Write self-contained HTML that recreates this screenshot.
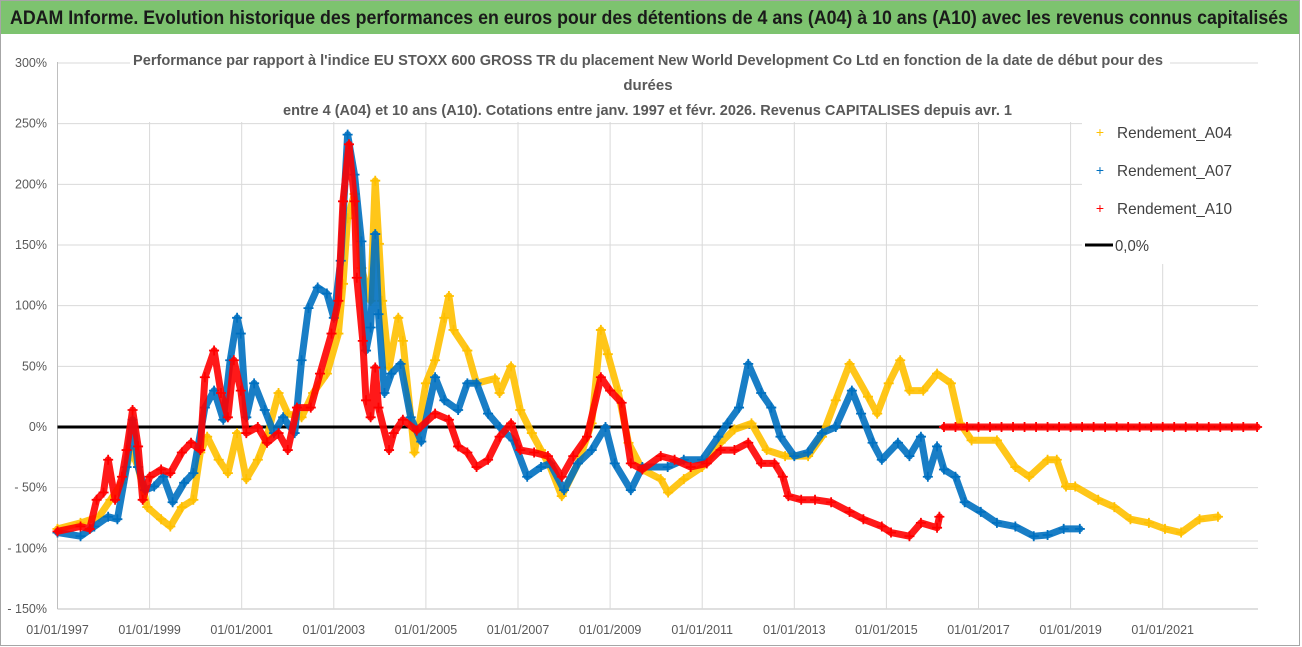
<!DOCTYPE html>
<html><head><meta charset="utf-8">
<style>
html,body{margin:0;padding:0;background:#fff;}
svg{display:block;}
text{font-family:"Liberation Sans Narrow","Liberation Sans",sans-serif;}
</style></head>
<body>
<svg id="chart" width="1302" height="647" viewBox="0 0 1302 647" xmlns="http://www.w3.org/2000/svg">
  <rect x="0.5" y="0.5" width="1299" height="645" fill="#fff" stroke="#a6a6a6"/>
  <rect x="1" y="1" width="1298" height="33" fill="#7dc36f"/>
  <text x="10" y="24" font-size="19" font-weight="bold" fill="#1a1a1a" textLength="1278" lengthAdjust="spacingAndGlyphs">ADAM Informe. Evolution historique des performances en euros pour des détentions de 4 ans (A04) à 10 ans (A10) avec les revenus connus capitalisés</text>
  <g id="grid"></g>
  <g id="axes"></g>
  <g id="series"></g>
  <rect x="130" y="45" width="1040" height="75" fill="#fff"/>
  <g fill="#595959" font-size="15" font-weight="bold">
    <text x="133" y="65" textLength="1030" lengthAdjust="spacingAndGlyphs">Performance par rapport à l'indice EU STOXX 600 GROSS TR  du placement New World Development Co Ltd en fonction de la date de début pour des</text>
    <text x="648" y="90" text-anchor="middle">durées</text>
    <text x="283" y="115" textLength="729" lengthAdjust="spacingAndGlyphs">entre 4 (A04) et 10 ans (A10). Cotations entre janv. 1997 et févr. 2026. Revenus CAPITALISES depuis avr. 1</text>
  </g>
  <g id="legend">
    <rect x="1082" y="114" width="178" height="150" fill="#fff"/>
    <g>
      <text x="1100" y="137" font-size="14" fill="#ffc000" text-anchor="middle">+</text>
      <text x="1117" y="138" font-size="16" fill="#404040" textLength="115" lengthAdjust="spacingAndGlyphs">Rendement_A04</text>
    </g>
    <g>
      <text x="1100" y="175" font-size="14" fill="#0070c0" text-anchor="middle">+</text>
      <text x="1117" y="176" font-size="16" fill="#404040" textLength="115" lengthAdjust="spacingAndGlyphs">Rendement_A07</text>
    </g>
    <g>
      <text x="1100" y="213" font-size="14" fill="#ff0000" text-anchor="middle">+</text>
      <text x="1117" y="214" font-size="16" fill="#404040" textLength="115" lengthAdjust="spacingAndGlyphs">Rendement_A10</text>
    </g>
    <g>
      <line x1="1085" y1="245" x2="1113" y2="245" stroke="#000" stroke-width="3"/>
      <text x="1115" y="251" font-size="16" fill="#404040" textLength="34" lengthAdjust="spacingAndGlyphs">0,0%</text>
    </g>
  </g>
</svg>
<script>
const yTicks = [300,250,200,150,100,50,0,-50,-100,-150];
const yTickLabels = ["300%","250%","200%","150%","100%","50%","0%","- 50%","- 100%","- 150%"];
const xTicks = [1997,1999,2001,2003,2005,2007,2009,2011,2013,2015,2017,2019,2021];
const xTickLabels = ["01/01/1997","01/01/1999","01/01/2001","01/01/2003","01/01/2005","01/01/2007","01/01/2009","01/01/2011","01/01/2013","01/01/2015","01/01/2017","01/01/2019","01/01/2021"];

const a04Dates = [1997.0,1997.5,1997.9,1998.15,1998.4,1998.6,1998.75,1998.95,1999.25,1999.45,1999.7,1999.95,2000.1,2000.25,2000.5,2000.7,2000.9,2001.1,2001.35,2001.55,2001.8,2002.0,2002.3,2002.55,2002.85,2003.1,2003.2,2003.3,2003.45,2003.6,2003.8,2003.9,2003.98,2004.05,2004.2,2004.4,2004.5,2004.75,2005.0,2005.2,2005.4,2005.5,2005.6,2005.9,2006.1,2006.5,2006.6,2006.85,2007.05,2007.3,2007.5,2007.7,2007.95,2008.3,2008.6,2008.8,2008.95,2009.17,2009.4,2009.7,2010.1,2010.26,2010.6,2011.0,2011.4,2011.7,2012.07,2012.4,2012.8,2013.3,2013.6,2013.9,2014.2,2014.6,2014.8,2015.05,2015.3,2015.5,2015.8,2016.1,2016.4,2016.6,2016.85,2017.4,2017.8,2018.1,2018.5,2018.7,2018.9,2019.1,2019.6,2019.95,2020.3,2020.7,2021.05,2021.4,2021.8,2022.2];
const a04Values = [-84,-79,-74,-60,-46,-19,-33,-66,-76,-82,-66,-60,-21,-8,-27,-38,-5,-43,-27,-8,28,11,8,28,44,77,118,172,192,131,104,203,151,104,49,90,71,-21,36,55,90,108,80,63,36,40,28,50,14,-5,-19,-33,-57,-30,3,80,60,30,-13,-35,-43,-54,-43,-33,-13,-2,3,-19,-24,-24,-8,22,52,25,11,36,55,30,30,44,36,3,-11,-11,-33,-41,-27,-27,-49,-49,-60,-66,-76,-79,-84,-87,-76,-74];

const a07Dates = [1997.0,1997.5,1997.8,1998.1,1998.3,1998.5,1998.63,1998.75,1998.9,1999.1,1999.3,1999.5,1999.75,1999.95,2000.2,2000.4,2000.6,2000.75,2000.9,2000.98,2001.1,2001.27,2001.5,2001.7,2001.9,2002.15,2002.3,2002.45,2002.65,2002.85,2003.0,2003.15,2003.3,2003.45,2003.6,2003.7,2003.8,2003.9,2003.97,2004.1,2004.25,2004.45,2004.67,2004.9,2005.2,2005.4,2005.7,2005.9,2006.1,2006.35,2006.6,2006.9,2007.2,2007.5,2007.7,2008.0,2008.3,2008.6,2008.9,2009.1,2009.45,2009.7,2010.25,2010.6,2011.0,2011.35,2011.55,2011.8,2012.0,2012.28,2012.5,2012.7,2013.0,2013.3,2013.6,2013.9,2014.25,2014.45,2014.7,2014.9,2015.25,2015.5,2015.75,2015.9,2016.1,2016.25,2016.5,2016.7,2017.05,2017.4,2017.8,2018.2,2018.5,2018.85,2019.2];
const a07Values = [-87,-90,-82,-74,-76,-33,6,-33,-52,-49,-41,-62,-46,-38,16,30,6,55,90,77,8,36,14,-5,8,-5,55,98,115,110,90,137,241,208,153,63,82,159,93,28,44,52,8,-12,41,22,14,36,36,11,0,-11,-41,-33,-30,-52,-30,-19,0,-30,-52,-33,-33,-27,-27,-8,3,16,52,28,16,-8,-24,-21,-5,0,30,11,-13,-27,-13,-24,-8,-41,-16,-35,-41,-62,-70,-79,-82,-90,-89,-84,-84];

const a10Dates = [1997.0,1997.5,1997.7,1997.85,1998.0,1998.1,1998.25,1998.4,1998.5,1998.63,1998.75,1998.85,1999.0,1999.25,1999.45,1999.7,1999.9,2000.1,2000.2,2000.4,2000.55,2000.7,2000.83,2000.98,2001.1,2001.35,2001.55,2001.8,2002.0,2002.2,2002.5,2002.7,2002.95,2003.1,2003.2,2003.33,2003.45,2003.5,2003.63,2003.7,2003.8,2003.9,2003.97,2004.2,2004.3,2004.5,2004.8,2005.2,2005.5,2005.7,2005.9,2006.1,2006.35,2006.6,2006.85,2007.05,2007.35,2007.65,2007.95,2008.2,2008.5,2008.8,2009.0,2009.25,2009.45,2009.7,2010.1,2010.4,2010.75,2011.1,2011.4,2011.7,2012.0,2012.28,2012.57,2012.75,2012.87,2013.15,2013.45,2013.8,2014.2,2014.5,2014.9,2015.1,2015.5,2015.75,2016.1,2016.15,
  2016.25,2016.5,2016.75,2017.0,2017.25,2017.5,2017.75,2018.0,2018.25,2018.5,2018.75,2019.0,2019.25,2019.5,2019.75,2020.0,2020.25,2020.5,2020.75,2021.0,2021.25,2021.5,2021.75,2022.0,2022.25,2022.5,2022.75,2023.05];
const a10Values = [-86,-82,-84,-60,-54,-27,-60,-41,-19,14,-16,-60,-41,-35,-38,-21,-13,-19,41,63,28,8,55,30,-5,0,-13,-5,-19,16,16,44,77,104,186,233,186,123,71,22,8,49,16,-19,-5,6,-3,11,6,-16,-21,-33,-27,-8,3,-19,-21,-24,-41,-24,-8,41,30,20,-30,-35,-24,-27,-33,-30,-19,-19,-13,-30,-30,-41,-57,-60,-60,-62,-70,-76,-82,-87,-90,-79,-83,-74,
  0,0,0,0,0,0,0,0,0,0,0,0,0,0,0,0,0,0,0,0,0,0,0,0,0,0,0,0];

const NS = "http://www.w3.org/2000/svg";
const X0 = 57.5, PX_PER_YEAR = 46.05, Y0 = 427, PX_PER_PCT = 1.2133;
function xScale(year){ return X0 + (year - 1997) * PX_PER_YEAR; }
function yScale(v){ return Y0 - v * PX_PER_PCT; }
const RIGHT = 1258;
function mk(tag, attrs, parent){ const e = document.createElementNS(NS, tag); for (const k in attrs) e.setAttribute(k, attrs[k]); parent.appendChild(e); return e; }

const grid = document.getElementById('grid');
const axes = document.getElementById('axes');
yTicks.forEach((t, i) => {
  const y = yScale(t);
  const gl = mk('line', {x1: X0, x2: RIGHT, y1: y, y2: y, stroke: t === -150 ? '#bfbfbf' : '#d9d9d9', 'stroke-width': 1}, grid);
  
  
  const lb = mk('text', {x: 47, y: y + 4, 'text-anchor': 'end', 'font-size': 12.5, fill: '#595959'}, axes);
  lb.textContent = yTickLabels[i];
  
  
});
const extra = mk('line', {x1: X0, x2: RIGHT, y1: 541, y2: 541, stroke: '#d9d9d9', 'stroke-width': 1}, grid);


xTicks.forEach((t, i) => {
  const x = xScale(t);
  const gl = mk('line', {x1: x, x2: x, y1: 122, y2: yScale(-150), stroke: '#d9d9d9', 'stroke-width': 1}, grid);
  
  
  const lb = mk('text', {x: x, y: 634, 'text-anchor': 'middle', 'font-size': 12.5, fill: '#595959'}, axes);
  lb.textContent = xTickLabels[i];
  
  
});
const yAxis = mk('line', {x1: X0, x2: X0, y1: 62, y2: yScale(-150), stroke: '#bfbfbf', 'stroke-width': 1}, axes);



const seriesG = document.getElementById('series');
const zero = mk('line', {x1: X0, x2: RIGHT, y1: yScale(0), y2: yScale(0), stroke: '#000', 'stroke-width': 3}, seriesG);



function drawSeries(dates, values, color, name){
  const g = mk('g', {}, seriesG);
  
  
  // split trace where the series jumps from a nonzero value to the flat zero tail
  let segs = [[]];
  dates.forEach((d, i) => {
    if (i > 0 && values[i] === 0 && values[i-1] !== 0 && Math.abs(values[i-1]) > 30) segs.push([]);
    segs[segs.length-1].push(xScale(d).toFixed(1) + ',' + yScale(values[i]).toFixed(1));
  });
  segs.forEach(s => {
    const pl = mk('polyline', {points: s.join(' '), fill: 'none', stroke: color, 'stroke-width': 7, 'stroke-linejoin': 'round', 'stroke-linecap': 'round', 'stroke-opacity': 0.9}, g);
    
    
  });
  dates.forEach((d, i) => {
    const x = xScale(d), y = yScale(values[i]);
    const p = mk('path', {d: `M${x-5},${y}h10M${x},${y-5}v10`, stroke: color, 'stroke-width': 1.8}, g);
    
    
  });
}
drawSeries(a04Dates, a04Values, '#ffc000', 'series-a04');
drawSeries(a07Dates, a07Values, '#0070c0', 'series-a07');
drawSeries(a10Dates, a10Values, '#ff0000', 'series-a10');
</script>
</body></html>
